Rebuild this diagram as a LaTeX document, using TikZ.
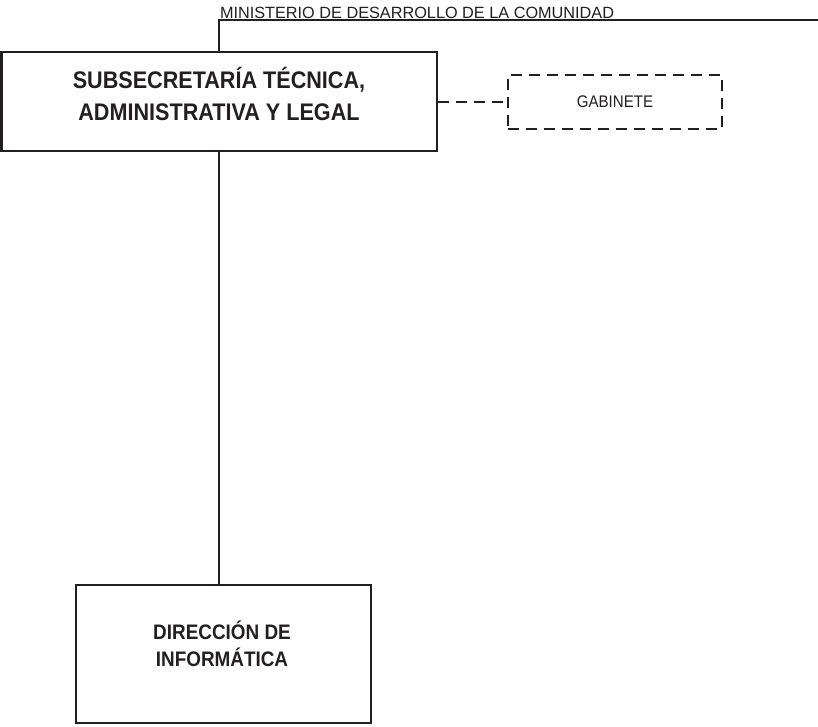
\documentclass[tikz,border=0pt]{standalone}
\usepackage{fontspec}
\setmainfont{Liberation Sans}
\newfontfamily\estrecha[FakeStretch=0.9]{Liberation Sans}
\definecolor{tinta}{HTML}{231F20}
\tikzset{
	caja/.style={draw, line width=1.5pt, inner sep=0pt},
	cajatrat/.style={draw, line width=1.5pt, inner sep=0pt, dash pattern=on 8.5pt off 5pt},
	titulo/.style={align=center, inner sep=0pt, font=\estrecha\bfseries\fontsize{18}{24}\selectfont},
}

\begin{document}
\begin{tikzpicture}[x=0.75pt, y=-0.75pt, color=tinta, line width=1.5pt]
		\useasboundingbox (0,0) rectangle (818,727);
		% ministerio
		\coordinate (min-der) at (818,20.5);
		\node[anchor=base west, inner sep=0pt, font=\fontsize{12.2}{14}\selectfont] (ministerio) at (219,18.5) {MINISTERIO DE DESARROLLO DE LA COMUNIDAD};
		% subsecretaria
		\node[caja, minimum width=326.25pt, minimum height=74.25pt] (subsec) at (219,102) {};
		\node[titulo] (subsec-txt) at (219,94) {SUBSECRETARÍA TÉCNICA,\\ADMINISTRATIVA Y LEGAL};
		% gabinete
		\node[cajatrat, minimum width=160.5pt, minimum height=40.5pt, font=\estrecha\fontsize{12.6}{14}\selectfont] (gabinete) at (615,102) {GABINETE};
		% direccion
		\node[caja, minimum width=221.6pt, minimum height=103.5pt] (direccion) at (223.3,654) {};
		\node[titulo, font=\estrecha\bfseries\fontsize{15.75}{20}\selectfont] (direccion-txt) at (222,644) {DIRECCIÓN DE\\INFORMÁTICA};

		\draw (subsec.north) -- (subsec.north |- min-der) -- (min-der);
		\draw[dash pattern=on 8.5pt off 5pt] (subsec.east) -- (gabinete.west);
		\draw (subsec.south) -- (subsec.south |- direccion.north);
	\end{tikzpicture}
\end{document}
